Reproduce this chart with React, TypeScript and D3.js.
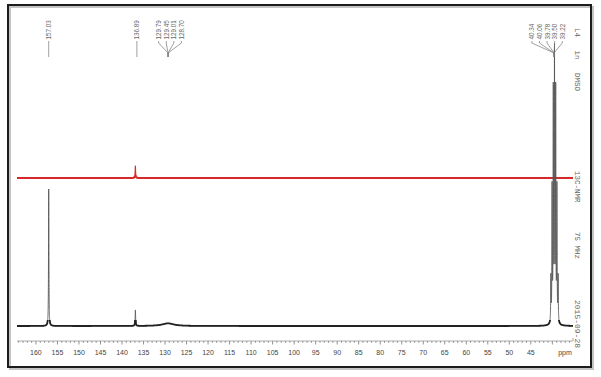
import React from "react";
import * as d3 from "d3";

// ---- data ----
const axisTicks = [160, 155, 150, 145, 140, 135, 130, 125, 120, 115, 110, 105, 100, 95, 90, 85, 80, 75, 70, 65, 60, 55, 50, 45];

// bottom (black) trace peaks
const blackPpm = [157.03, 136.89, 129.3, 40.34, 40.06, 39.78, 39.5, 39.22, 38.94, 38.66];
const blackHeight = [51.5, 6, 1.0, 17, 50, 86, 100, 86, 50, 17];
const blackWidth = [0.05, 0.06, 1.6, 0.05, 0.05, 0.05, 0.05, 0.05, 0.05, 0.05];

// upper (red) trace peaks
const redPpm = [136.89];
const redHeight = [4.6];
const redWidth = [0.06];

// peak label groups
const labelGroup1 = ["157.03"];
const labelGroup2 = ["136.89"];
const labelGroup3 = ["129.79", "129.45", "129.01", "128.70"];
const labelGroup4 = ["40.34", "40.06", "39.78", "39.50", "39.22"];

const W = 601;
const H = 377;

const x = d3.scaleLinear().domain([164.4, 35.2]).range([17, 573]);
const yBlack = d3.scaleLinear().domain([0, 100]).range([326, 60]);
const yRed = d3.scaleLinear().domain([0, 100]).range([178, -88]);

function spectrum(ppm: number[], h: number[], w: number[]) {
  const pts: [number, number][] = [];
  for (let p = 164.4; p >= 35.2; p -= 0.005) {
    let v = 0;
    for (let i = 0; i < ppm.length; i++) {
      const d = p - ppm[i];
      v += h[i] * (w[i] * w[i]) / (d * d + w[i] * w[i]);
    }
    pts.push([p, v]);
  }
  return pts;
}

const blackData = spectrum(blackPpm, blackHeight, blackWidth);
const redData = spectrum(redPpm, redHeight, redWidth);

function PeakLabels({ labels, peakPpm, shift }: { labels: string[]; peakPpm: number; shift: number }) {
  const px = x(peakPpm);
  const spacing = 7.6;
  const n = labels.length;
  const cx = px + shift;
  return (
    <g>
      {labels.map((l, i) => {
        const lx = cx + (i - (n - 1) / 2) * spacing;
        const path = n === 1
          ? `M${lx},41 L${lx},57`
          : `M${lx},41 L${lx},43 L${px},53 L${px},57`;
        return (
          <g key={l}>
            <path d={path} stroke="#777" strokeWidth={0.7} fill="none" />
            <text
              transform={`translate(${lx},39.5) rotate(-90)`}
              fontSize={6.3}
              fontFamily="Liberation Sans, Arial, sans-serif"
              fill="#666"
              dominantBaseline="central"
            >
              {l}
            </text>
          </g>
        );
      })}
    </g>
  );
}

export default function App() {
  const lineB = d3.line<[number, number]>().x((d) => x(d[0])).y((d) => yBlack(d[1]));
  const lineR = d3.line<[number, number]>().x((d) => x(d[0])).y((d) => yRed(d[1]));
  const minor = d3.range(164, 35, -1);
  const axisY = 341;
  const mono = "Liberation Mono, DejaVu Sans Mono, monospace";
  const pathB = lineB(blackData) || "";
  const pathR = lineR(redData) || "";
  return (
    <svg width={W} height={H} style={{ position: "absolute", left: 0, top: 0, background: "#fff" }}>
      <defs>
        <clipPath id="baseB">
          <rect x={0} y={yBlack(0) - 6} width={W} height={14} />
        </clipPath>
        <clipPath id="baseR">
          <rect x={0} y={yRed(0) - 2.5} width={W} height={8} />
        </clipPath>
      </defs>
      <rect x={0} y={0} width={W} height={H} fill="#fff" />
      {/* frame shadow + frame */}
      <rect x={10} y={7} width={583} height={362} fill="none" stroke="#c4c4c4" strokeWidth={2} />
      <rect x={8} y={5} width={583} height={362} fill="none" stroke="#1c1c1c" strokeWidth={2} />

      {/* traces */}
      <path d={pathR} fill="none" stroke="#d62a2a" strokeWidth={1.1} />
      <path d={pathR} fill="none" stroke="#d62a2a" strokeWidth={2} clipPath="url(#baseR)" />
      <path d={pathB} fill="none" stroke="#555" strokeWidth={0.9} />
      <path d={pathB} fill="none" stroke="#222" strokeWidth={1.8} clipPath="url(#baseB)" />

      {/* axis */}
      <line x1={17} x2={573} y1={axisY} y2={axisY} stroke="#999" strokeWidth={0.8} />
      <line x1={573} x2={573} y1={axisY} y2={axisY - 3} stroke="#999" strokeWidth={0.8} />
      {minor.map((m) => (
        <line key={m} x1={x(m)} x2={x(m)} y1={axisY} y2={axisY + (m % 5 === 0 ? 3.5 : 1.8)} stroke="#777" strokeWidth={0.8} />
      ))}
      {axisTicks.map((t) => (
        <text key={t} x={x(t)} y={355} fontSize={7} textAnchor="middle" fontFamily="Liberation Sans, Arial, sans-serif" fill="#444">
          {t}
        </text>
      ))}
      <text x={565} y={355} fontSize={7} textAnchor="middle" fontFamily="Liberation Sans, Arial, sans-serif" fill="#444">ppm</text>

      {/* peak labels */}
      <PeakLabels labels={labelGroup1} peakPpm={157.03} shift={0} />
      <PeakLabels labels={labelGroup2} peakPpm={136.89} shift={1.5} />
      <PeakLabels labels={labelGroup3} peakPpm={129.3} shift={2} />
      <PeakLabels labels={labelGroup4} peakPpm={39.6} shift={-7} />

      {/* right-side annotations */}
      <text transform="translate(575,28) rotate(90)" fontSize={7.5} fontFamily={mono} fill="#666" style={{ whiteSpace: "pre" }}>
        {"L4   in   DMSO"}
      </text>
      <text transform="translate(575,171) rotate(90)" fontSize={7.5} fontFamily={mono} fill="#666">13C-NMR</text>
      <text transform="translate(575,232) rotate(90)" fontSize={7.5} fontFamily={mono} fill="#666" style={{ whiteSpace: "pre" }}>
        {"75 MHz"}
      </text>
      <text transform="translate(575,300) rotate(90)" fontSize={8} fontFamily={mono} fill="#666">2015-09-28</text>
    </svg>
  );
}
